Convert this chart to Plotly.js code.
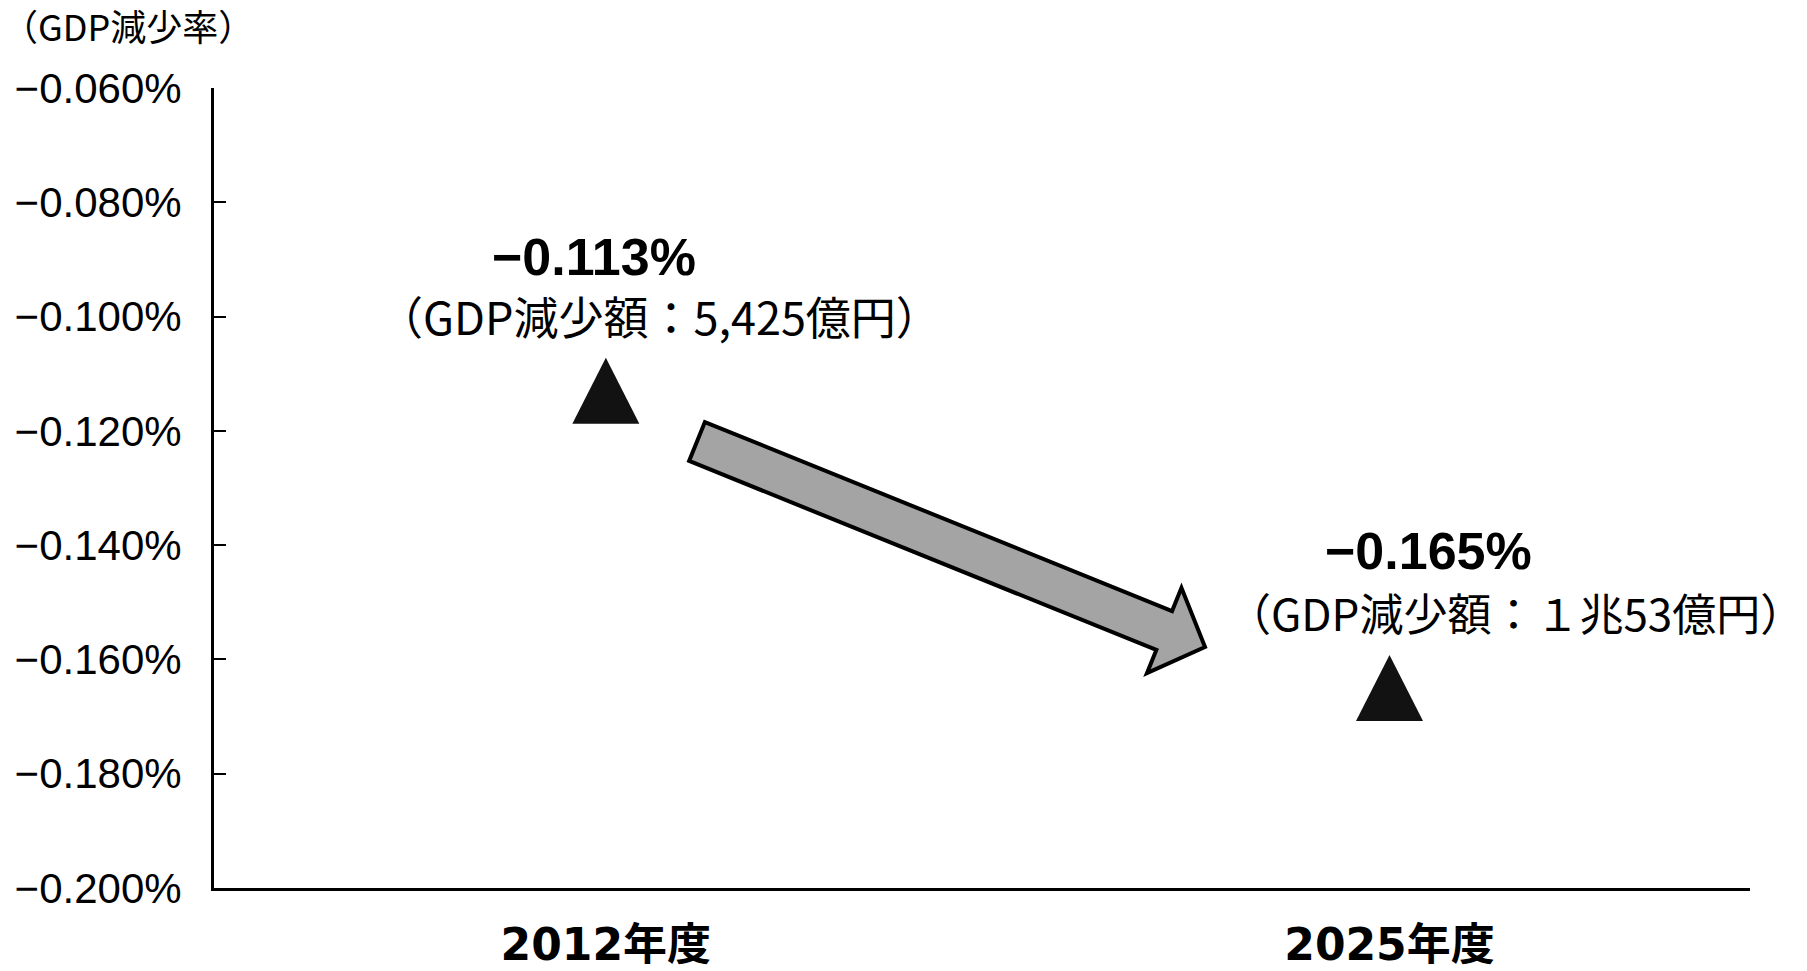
<!DOCTYPE html>
<html>
<head>
<meta charset="utf-8">
<script src="https://cdn.plot.ly/plotly-3.0.1.min.js"></script>
<style>
  html, body { margin: 0; padding: 0; background: #ffffff; }
  #chart { width: 1807px; height: 971px; }
</style>
</head>
<body>
<div id="chart"></div>
<script>
// GDP減少率 by fiscal year
const categories = ['2012年度', '2025年度'];
const gdpRate = [-0.113, -0.165];               // %
const amountLabels = ['（GDP減少額：5,425億円）', '（GDP減少額：１兆53億円）'];

// y axis ticks
const yTickVals = [-0.06, -0.08, -0.10, -0.12, -0.14, -0.16, -0.18, -0.20];
const yTickText = ['−0.060%', '−0.080%', '−0.100%', '−0.120%', '−0.140%', '−0.160%', '−0.180%', '−0.200%'];
const yTitle = '（GDP減少率）';

// ---- layout geometry ----
const W = 1807, H = 971;
const M = { l: 214, r: 57, t: 88, b: 83 };
const plotW = W - M.l - M.r, plotH = H - M.t - M.b;
const yRange = [-0.20, -0.06];
const xRange = [-0.5, 1.46];
const xPerPx = (xRange[1] - xRange[0]) / plotW;
const yPerPx = (yRange[1] - yRange[0]) / plotH;

const xPos = categories.map((c, i) => i);
const fmtPct = v => (v < 0 ? '−' : '') + Math.abs(v).toFixed(3) + '%';

// solid up-pointing triangle centred on each value (size in px)
const triW = 67, triH = 66;
const triangleTraces = gdpRate.map((v, i) => {
  const hw = triW / 2 * xPerPx, hh = triH / 2 * yPerPx;
  return {
    type: 'scatter',
    mode: 'lines',
    x: [xPos[i] - hw, xPos[i] + hw, xPos[i], xPos[i] - hw],
    y: [v - hh, v - hh, v + hh, v - hh],
    fill: 'toself',
    fillcolor: '#121212',
    line: { width: 0, color: '#121212' },
    hoverinfo: 'skip',
    showlegend: false,
    name: categories[i]
  };
});

// decorative downward arrow between the two points (pixel geometry -> paper)
function arrowPath() {
  const S = [697, 441.5], T = [1205, 647];
  const shaftHalf = 21, headHalf = 46, headLen = 44;
  const dx = T[0] - S[0], dyy = T[1] - S[1];
  const L = Math.hypot(dx, dyy);
  const u = [dx / L, dyy / L], n = [-u[1], u[0]];
  const B = [T[0] - u[0] * headLen, T[1] - u[1] * headLen];
  const pts = [
    [S[0] - n[0] * shaftHalf, S[1] - n[1] * shaftHalf],
    [B[0] - n[0] * shaftHalf, B[1] - n[1] * shaftHalf],
    [B[0] - n[0] * headHalf, B[1] - n[1] * headHalf],
    T,
    [B[0] + n[0] * headHalf, B[1] + n[1] * headHalf],
    [B[0] + n[0] * shaftHalf, B[1] + n[1] * shaftHalf],
    [S[0] + n[0] * shaftHalf, S[1] + n[1] * shaftHalf]
  ];
  const toPaper = p => [(p[0] - M.l) / plotW, (H - M.b - p[1]) / plotH];
  return pts.map((p, i) => {
    const q = toPaper(p);
    return (i === 0 ? 'M' : 'L') + q[0].toFixed(5) + ',' + q[1].toFixed(5);
  }).join(' ') + ' Z';
}

const valueFont = { family: 'Liberation Sans, Arial, sans-serif', size: 52, color: '#000000', weight: 700 };
const amountSizes = [45, 44];

const valueShift = [[-12, 134], [39, 137]];
const amountShift = [[54, 75], [126, 76]];

const annotations = [];
xPos.forEach((x, i) => {
  annotations.push({
    x: x, y: gdpRate[i], xref: 'x', yref: 'y',
    text: fmtPct(gdpRate[i]), showarrow: false,
    xanchor: 'center', yanchor: 'middle',
    xshift: valueShift[i][0], yshift: valueShift[i][1],
    font: valueFont
  });
  annotations.push({
    x: x, y: gdpRate[i], xref: 'x', yref: 'y',
    text: amountLabels[i], showarrow: false,
    xanchor: 'center', yanchor: 'middle',
    xshift: amountShift[i][0], yshift: amountShift[i][1],
    font: { family: 'Noto Sans CJK JP, sans-serif', size: amountSizes[i], color: '#000000' }
  });
});
// axis caption above the y axis
annotations.push({
  x: (128 - M.l) / plotW, y: (H - M.b - 25) / plotH, xref: 'paper', yref: 'paper',
  text: yTitle, showarrow: false,
  xanchor: 'center', yanchor: 'middle',
  font: { family: 'Noto Sans CJK JP, sans-serif', size: 36, color: '#000000' }
});

const layout = {
  width: W, height: H,
  margin: M,
  paper_bgcolor: '#ffffff',
  plot_bgcolor: '#ffffff',
  showlegend: false,
  xaxis: {
    range: xRange,
    tickvals: xPos,
    ticktext: categories,
    showgrid: false, zeroline: false,
    showline: true, linecolor: '#000000', linewidth: 3,
    ticks: '',
    ticklabelstandoff: 16,
    tickfont: { family: 'DejaVu Sans, Noto Sans CJK JP, sans-serif', size: 44, color: '#000000', weight: 700 },
    fixedrange: true
  },
  yaxis: {
    range: yRange,
    tickvals: yTickVals,
    ticktext: yTickText,
    showgrid: false, zeroline: false,
    showline: true, linecolor: '#000000', linewidth: 3,
    ticks: 'inside', ticklen: 12, tickwidth: 2, tickcolor: '#000000',
    ticklabelstandoff: 21,
    tickfont: { family: 'Liberation Sans, Arial, sans-serif', size: 42, color: '#000000' },
    fixedrange: true
  },
  shapes: [{
    type: 'path', xref: 'paper', yref: 'paper',
    path: arrowPath(),
    fillcolor: '#a4a4a4',
    line: { color: '#000000', width: 4 },
    layer: 'above'
  }],
  annotations: annotations
};

Plotly.newPlot('chart', triangleTraces, layout, { displayModeBar: false, staticPlot: true });
</script>
</body>
</html>
